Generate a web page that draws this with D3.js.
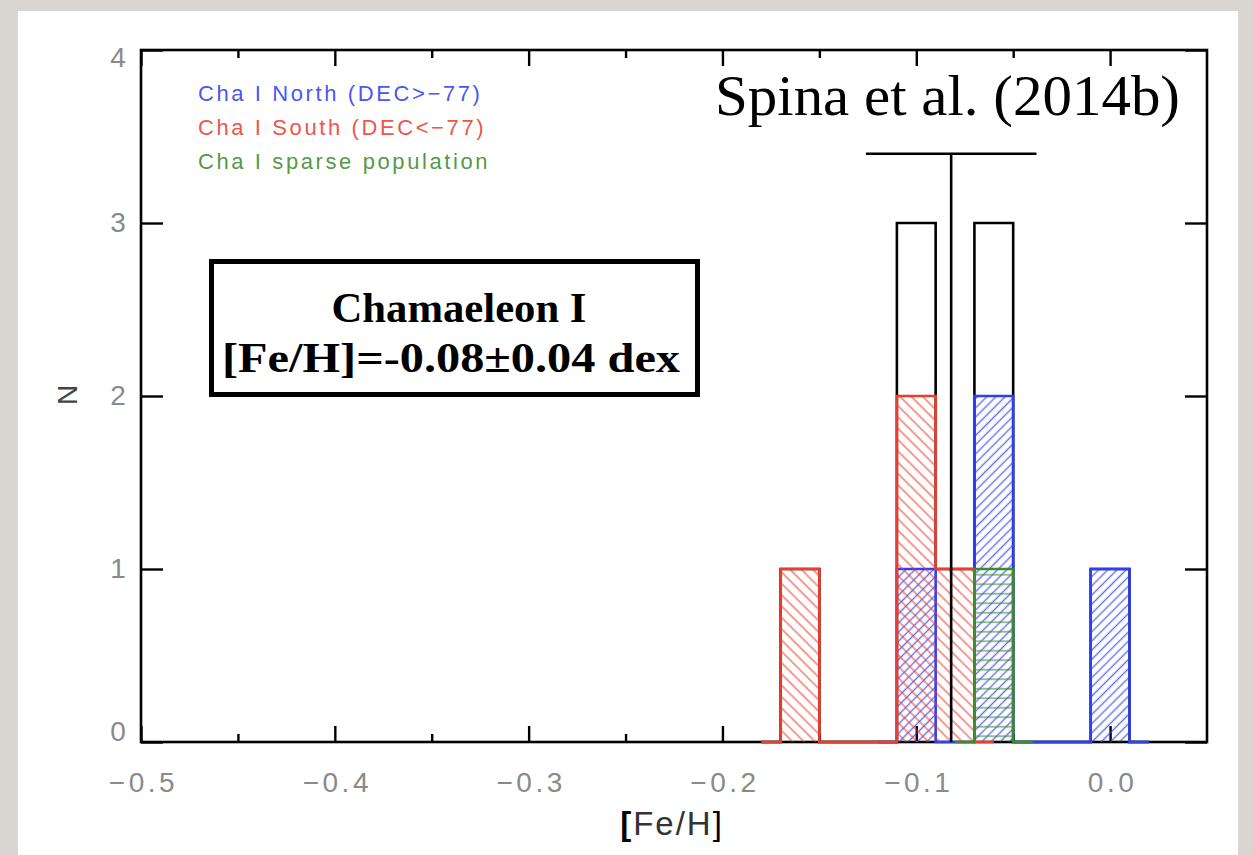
<!DOCTYPE html>
<html><head><meta charset="utf-8">
<script src="https://cdn.jsdelivr.net/npm/d3@7"></script>
<style>
html,body{margin:0;padding:0;background:#d9d6d1;}
svg{display:block;}
</style></head>
<body>
<svg id="chart" width="1254" height="855"></svg>
<script>
// ---- data ----
const binCenters   = [-0.18,-0.16,-0.14,-0.12,-0.10,-0.08,-0.06,-0.04,-0.02,0.00,0.02];
const northCounts  = [0,0,0,0,1,0,2,0,0,1,0];
const southCounts  = [0,1,0,0,2,1,0,0,0,0,0];
const sparseCounts = [0,0,0,0,0,0,1,0,0,0,0];
const binWidth = 0.02;
const meanFeH = -0.082, errFeH = 0.044, meanBarHeight = 3.4;
const xTicks = [-0.5,-0.4,-0.3,-0.2,-0.1,0.0];
const xMinorTicks = [-0.45,-0.35,-0.25,-0.15,-0.05];
const yTicks = [0,1,2,3,4];
const legendLabels = ["Cha I North (DEC>\u221277)","Cha I South (DEC<\u221277)","Cha I sparse population"];
const boxLines = ["Chamaeleon I","[Fe/H]=-0.08\u00b10.04 dex"];
const citation = "Spina et al. (2014b)";

const colors = {north:"#2f3ff2", south:"#ee3d2d", sparse:"#3d8c2c", total:"#000"};

const svg = d3.select("#chart");
// background panel
svg.append("rect").attr("x",0).attr("y",0).attr("width",1254).attr("height",855).attr("fill","#d9d6d1");
svg.append("rect").attr("x",18).attr("y",11).attr("width",1220).attr("height",850).attr("fill","#fff");

const L=141,R=1207,T=50,B=742;
const x = d3.scaleLinear().domain([-0.5,0.05]).range([L,R]);
const y = d3.scaleLinear().domain([0,4]).range([B,T]);

// hatch patterns
const defs = svg.append("defs");
function hatch(id, color, angle, spacing){
  const p = defs.append("pattern").attr("id",id).attr("patternUnits","userSpaceOnUse")
    .attr("width",spacing).attr("height",spacing).attr("patternTransform",`rotate(${angle})`);
  p.append("line").attr("x1",0).attr("y1",spacing/2).attr("x2",spacing).attr("y2",spacing/2)
    .attr("stroke",color).attr("stroke-width",1.4).attr("stroke-opacity",0.75);
}
hatch("hNorth", colors.north, -45, 6.5);
hatch("hSouth", colors.south, 45, 8);
hatch("hSparse", colors.sparse, 0, 9.5);

// frame
svg.append("rect").attr("x",L).attr("y",T).attr("width",R-L).attr("height",B-T)
  .attr("fill","none").attr("stroke","#000").attr("stroke-width",2.6);

// axes
const fmt = d3.format(".1f");
const axB = svg.append("g").attr("transform",`translate(0,${B})`)
  .call(d3.axisBottom(x).tickValues(xTicks).tickFormat(fmt).tickSizeInner(-16).tickSizeOuter(0).tickPadding(30));
const axBm = svg.append("g").attr("transform",`translate(0,${B})`)
  .call(d3.axisBottom(x).tickValues(xMinorTicks).tickFormat("").tickSizeInner(-8).tickSizeOuter(0));
const axT = svg.append("g").attr("transform",`translate(0,${T})`)
  .call(d3.axisTop(x).tickValues(xTicks).tickFormat("").tickSizeInner(-16).tickSizeOuter(0));
const axTm = svg.append("g").attr("transform",`translate(0,${T})`)
  .call(d3.axisTop(x).tickValues(xMinorTicks).tickFormat("").tickSizeInner(-8).tickSizeOuter(0));
const axL = svg.append("g").attr("transform",`translate(${L},0)`)
  .call(d3.axisLeft(y).tickValues(yTicks).tickFormat(d3.format("d")).tickSizeInner(-22).tickSizeOuter(0).tickPadding(34));
const axR = svg.append("g").attr("transform",`translate(${R},0)`)
  .call(d3.axisRight(y).tickValues(yTicks).tickFormat("").tickSizeInner(-22).tickSizeOuter(0));
[axB,axBm,axT,axTm,axL,axR].forEach(a=>{
  a.select(".domain").remove();
  a.selectAll(".tick line").attr("stroke","#000").attr("stroke-width",2.4);
});
axB.selectAll(".tick text").attr("font-family","Liberation Sans").attr("font-size",28)
  .attr("fill","#8a8a8a").attr("letter-spacing","3.5px").attr("dx",2);
axL.selectAll(".tick text").attr("font-family","Liberation Sans").attr("font-size",28)
  .attr("fill","#8a8a8a").attr("text-anchor","middle").attr("x",-23)
  .attr("dy",d=> d===0 ? "-0.05em" : d===4 ? "0.6em" : "0.32em");

const totalCounts = binCenters.map((c,i)=>northCounts[i]+southCounts[i]+sparseCounts[i]);

const line = d3.line().x(d=>x(d[0])).y(d=>y(d[1])).curve(d3.curveStep);
function range(counts){
  const nz = counts.map((v,i)=>v>0?i:-1).filter(i=>i>=0);
  return [Math.max(0,nz[0]-1), Math.min(counts.length-1, nz[nz.length-1]+1)];
}
function drawSeries(counts, color, pat){
  const g = svg.append("g");
  if(pat){
    g.selectAll("rect").data(binCenters.map((c,i)=>[c,counts[i]]).filter(d=>d[1]>0))
      .join("rect")
      .attr("x",d=>x(d[0]-binWidth/2)).attr("width",d=>x(d[0]+binWidth/2)-x(d[0]-binWidth/2))
      .attr("y",d=>y(d[1])).attr("height",d=>y(0)-y(d[1]))
      .attr("fill",`url(#${pat})`);
  }
  const [a,b] = range(counts);
  const pts = binCenters.slice(a,b+1).map((c,i)=>[c,counts[a+i]]);
  g.append("path").attr("d",line(pts)).attr("fill","none").attr("stroke",color).attr("stroke-width",2.6);
}
drawSeries(totalCounts, colors.total, null);
drawSeries(northCounts, colors.north, "hNorth");
drawSeries(southCounts, colors.south, "hSouth");
drawSeries(sparseCounts, colors.sparse, "hSparse");

// mean + error bar
svg.append("line").attr("x1",x(meanFeH)).attr("x2",x(meanFeH)).attr("y1",y(0)).attr("y2",y(meanBarHeight))
  .attr("stroke","#000").attr("stroke-width",2.6);
svg.append("line").attr("x1",x(meanFeH-errFeH)).attr("x2",x(meanFeH+errFeH)).attr("y1",y(meanBarHeight)).attr("y2",y(meanBarHeight))
  .attr("stroke","#000").attr("stroke-width",2.6);

// axis titles
const xt = svg.append("text").attr("x",672).attr("y",835).attr("text-anchor","middle")
  .attr("font-family","Liberation Sans").attr("font-size",33).attr("fill","#333").attr("letter-spacing","2px");
xt.append("tspan").attr("font-weight","bold").attr("fill","#000").text("[");
xt.append("tspan").text("Fe/H");
xt.append("tspan").attr("fill","#000").text("]");
svg.append("text").attr("transform","translate(77,395) rotate(-90)").attr("text-anchor","middle")
  .attr("font-family","Liberation Sans").attr("font-size",28).attr("fill","#444").text("N");

// legend
const legColors = [colors.north, colors.south, colors.sparse];
svg.append("g").selectAll("text").data(legendLabels).join("text")
  .attr("x",198).attr("y",(d,i)=>101+i*34)
  .attr("font-family","Liberation Sans").attr("font-size",22).attr("letter-spacing","2.6px")
  .attr("fill",(d,i)=>legColors[i]).attr("fill-opacity",0.9).text(d=>d);

// citation
svg.append("text").attr("x",715).attr("y",115).attr("font-family","Liberation Serif").attr("font-size",56)
  .attr("textLength",465).attr("lengthAdjust","spacingAndGlyphs").attr("fill","#000").text(citation);

// box
svg.append("rect").attr("x",211.5).attr("y",261.5).attr("width",486).attr("height",133)
  .attr("fill","#fff").attr("stroke","#000").attr("stroke-width",5);
svg.append("text").attr("x",459).attr("y",322).attr("text-anchor","middle").attr("font-family","Liberation Serif")
  .attr("font-weight","bold").attr("font-size",42).attr("textLength",255).attr("lengthAdjust","spacingAndGlyphs").text(boxLines[0]);
svg.append("text").attr("x",222).attr("y",372).attr("font-family","Liberation Serif")
  .attr("font-weight","bold").attr("font-size",42).attr("textLength",458).attr("lengthAdjust","spacingAndGlyphs").text(boxLines[1]);
</script>
</body></html>
